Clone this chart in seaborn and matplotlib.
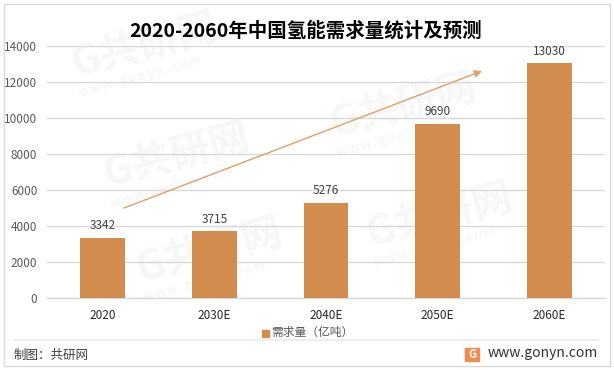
import pandas as pd
import matplotlib
matplotlib.use('Agg')
import matplotlib.pyplot as plt
from matplotlib.patches import Rectangle
from matplotlib.lines import Line2D
import seaborn as sns

# Chart data
years = ['2020', '2030E', '2040E', '2050E', '2060E']
demand = [3342, 3715, 5276, 9690, 13030]
y_ticks = [0, 2000, 4000, 6000, 8000, 10000, 12000, 14000]

title_text = '2020-2060年中国氢能需求量统计及预测'
legend_text = '需求量（亿吨）'
source_text = '制图：共研网'
site_text = 'www.gonyn.com'
mark_text = '共研网'

W, H = 614, 370
BAR = '#D28C4E'
GRID = '#D9D9D9'

sns.set_theme(style='white')
plt.rcParams['font.family'] = ['Noto Sans CJK SC', 'DejaVu Sans']


def fx(px):
    return px / W


def fy(px):
    return 1 - px / H


df = pd.DataFrame({'year': years, 'demand': demand})

fig = plt.figure(figsize=(W / 100, H / 100), dpi=100, facecolor='white')
ax = fig.add_axes([fx(47), fy(298), fx(605) - fx(47), (298 - 46) / H])
ax.patch.set_alpha(0)

sns.barplot(data=df, x='year', y='demand', color=BAR, saturation=1, width=0.4, linewidth=0, ax=ax, zorder=3)
ax.set_ylim(0, 14000)
ax.set_yticks(y_ticks)
ax.set_xlabel('')
ax.set_ylabel('')
ax.grid(axis='y', color=GRID, linewidth=1)
ax.set_axisbelow(True)
sns.despine(ax=ax, left=True, top=True, right=True)
ax.spines['bottom'].set_color(GRID)
ax.spines['bottom'].set_linewidth(1)
ax.tick_params(axis='x', length=0, pad=8, labelsize=8.5, labelcolor='#262626')
ax.tick_params(axis='y', length=0, pad=7, labelsize=8.5, labelcolor='#595959')

for i, v in enumerate(demand):
    ax.annotate(str(v), (i, v), xytext=(0, 4), textcoords='offset points', ha='center',
                va='bottom', fontsize=8.5, color='#404040', zorder=5)

fig.text(fx(306), fy(31), title_text, ha='center', va='center', fontsize=14,
         fontweight='bold', color='black')

# trend arrow
ax.annotate('', xy=(fx(482), fy(71)), xytext=(fx(124), fy(208)),
            xycoords='figure fraction', textcoords='figure fraction', zorder=6,
            arrowprops=dict(arrowstyle='-|>', color='#DDA06B', lw=1, mutation_scale=11, shrinkA=0, shrinkB=0))

# legend under the axis
fig.add_artist(Rectangle((fx(262), fy(337)), 7 / W, 7 / H, color=BAR, transform=fig.transFigure))
fig.text(fx(271), fy(332.5), legend_text, ha='left', va='center', fontsize=8.5, color='#595959')

# footer and outer frame
fig.add_artist(Line2D([fx(14), fx(598)], [fy(340), fy(340)], color='#EEEEEE', lw=1.5))
fig.add_artist(Rectangle((fx(4), fy(366)), 606 / W, 362 / H, fill=False, edgecolor='#D9D9D9',
                         lw=1, transform=fig.transFigure))
fig.text(fx(14), fy(355), source_text, ha='left', va='center', fontsize=9,
         fontweight='medium', color='#404040')
fig.text(fx(598), fy(353), site_text, ha='right', va='center', fontsize=10,
         fontweight='medium', color='#333333')
fig.add_artist(Rectangle((fx(465), fy(361)), 14 / W, 13 / H, color='#F08C50', transform=fig.transFigure))
fig.text(fx(472), fy(354), 'G', ha='center', va='center', fontsize=8, fontweight='bold', color='white')

# watermarks, only the ones that sit fully inside the frame
spaced_site = ' '.join(site_text)
for px, py in [(145, 45), (177, 155), (404, 105), (210, 250), (440, 215)]:
    fig.text(fx(px), fy(py), 'G' + mark_text, ha='center', va='center', fontsize=29, rotation=15,
             fontweight='bold', color='#F7F7F7', zorder=-5)
    fig.text(fx(px - 5), fy(py + 32), spaced_site, ha='center', va='center', fontsize=8.5, rotation=15,
             color='#F3F3F3', zorder=-5)

fig.savefig('out.png', dpi=100)
